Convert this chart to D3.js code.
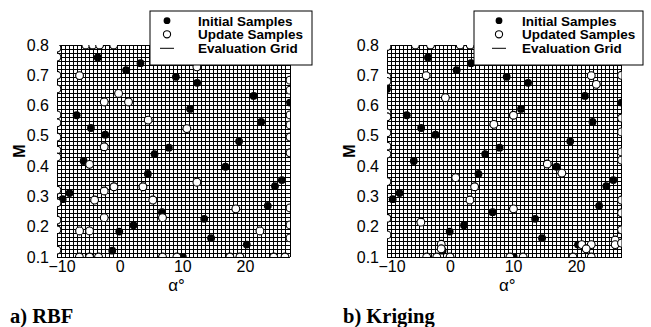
<!DOCTYPE html>
<html><head><meta charset="utf-8">
<script src="https://cdn.jsdelivr.net/npm/d3@7"></script>
<style>body{margin:0;background:#fff}svg{display:block}</style>
</head><body>
<script>
// ---- data ----
const xTicks = [-10, 0, 10, 20];
const yTicks = [0.1, 0.2, 0.3, 0.4, 0.5, 0.6, 0.7, 0.8];
const alphaDomain = [-10, 27.2];
const machDomain = [0.1, 0.8];
const gridCountAlpha = 58;
const gridCountMach = 53;

// initial samples [alpha, M] (shared by both panels)
const initialSamples = [
  [-3.5,0.759],[1.05,0.717],[3.33,0.74],[8.98,0.695],[12.38,0.675],[11.26,0.589],
  [21.4,0.632],[22.6,0.546],[27.2,0.61],[-6.87,0.568],[-4.58,0.526],[-2.3,0.504],
  [5.57,0.44],[7.86,0.461],[19.07,0.482],[16.9,0.398],[-5.75,0.417],[-9.1,0.291],
  [-8.0,0.311],[4.51,0.374],[6.75,0.248],[-0.06,0.184],[2.22,0.205],[-1.18,0.121],
  [13.5,0.226],[14.6,0.162],[20.3,0.141],[23.65,0.269],[24.8,0.334],[25.9,0.354],
  [10.1,0.1],[-10,0.655]
];

// RBF update samples
const rbfUpdateInterior = [
  [-6.4,0.699],[-0.17,0.64],[-2.46,0.612],[1.42,0.612],[12.33,0.728],[4.56,0.552],
  [10.73,0.524],[-2.46,0.464],[21.7,0.756],[-4.8,0.406],[-0.91,0.332],[-2.46,0.318],
  [-4.0,0.288],[3.72,0.332],[5.31,0.288],[-2.46,0.23],[-6.4,0.186],[-4.8,0.186],
  [6.84,0.23],[12.33,0.347],[18.55,0.259],[22.4,0.186]
];
const rbfUpdateTopAlpha = [-5.4,-4.3,-3.2,-0.95];
const rbfUpdateBottomAlpha = [-6.43,-4.8,-3.37,6.84,9.14,17.6,19.2,24.6,26.4];
const rbfUpdateLeftM = [0.79,0.76,0.70,0.655,0.569,0.543,0.496,0.453,0.43,0.321,0.279,0.222,0.19,0.123];
const rbfUpdateRightM = [0.684,0.651,0.569,0.536,0.496,0.444,0.262,0.206,0.163];

// Kriging updated samples
const krigUpdateInterior = [
  [-3.79,0.699],[-0.74,0.626],[6.95,0.538],[10.06,0.568],[22.4,0.699],[23.2,0.67],
  [15.43,0.407],[0.9,0.362],[3.9,0.332],[3.16,0.288],[-4.63,0.215],[10.06,0.259],
  [17.74,0.377],[20.9,0.141],[22.4,0.141],[21.6,0.127],[-1.4,0.142],[-1.4,0.127],
  [26.2,0.156],[26.2,0.141]
];
const krigUpdateTopAlpha = [-5.5,-3.1,1.6,3.2];
const krigUpdateBottomAlpha = [-3.7,-2.1,0,9.5,11.6,19.5,22.4];
const krigUpdateLeftM = [0.795,0.695,0.68,0.576,0.563,0.51,0.466,0.44,0.349,0.228,0.173];
const krigUpdateRightM = [0.70,0.559,0.513,0.447,0.42,0.288,0.246,0.19,0.146];

const legendA = ["Initial Samples","Update Samples","Evaluation Grid"];
const legendB = ["Initial Samples","Updated Samples","Evaluation Grid"];

function assemble(interior, top, bottom, left, right){
  return interior
    .concat(top.map(a=>[a, machDomain[1]]))
    .concat(bottom.map(a=>[a, machDomain[0]]))
    .concat(left.map(m=>[alphaDomain[0], m]))
    .concat(right.map(m=>[alphaDomain[1], m]));
}
const rbfUpdate = assemble(rbfUpdateInterior, rbfUpdateTopAlpha, rbfUpdateBottomAlpha, rbfUpdateLeftM, rbfUpdateRightM);
const krigUpdate = assemble(krigUpdateInterior, krigUpdateTopAlpha, krigUpdateBottomAlpha, krigUpdateLeftM, krigUpdateRightM);

// ---- drawing ----
const W = 651, H = 327;
const SANS = "Liberation Sans, Arial, Helvetica, sans-serif";
const svg = d3.select("body").append("svg").attr("width", W).attr("height", H);

function panel(id, x0, x1, update, legendLabels, legendBox, caption){
  const x = d3.scaleLinear().domain(alphaDomain).range([x0, x1]);
  const y = d3.scaleLinear().domain(machDomain).range([257, 45]);
  const g = svg.append("g");

  svg.append("clipPath").attr("id", "clip"+id).append("rect")
    .attr("x", x0).attr("y", 45).attr("width", x1 - x0).attr("height", 212);

  // evaluation grid
  const gx = d3.range(gridCountAlpha + 1).map(i => alphaDomain[0] + i*(alphaDomain[1]-alphaDomain[0])/gridCountAlpha);
  const gy = d3.range(gridCountMach + 1).map(i => machDomain[0] + i*(machDomain[1]-machDomain[0])/gridCountMach);
  const grid = g.append("g").attr("stroke", "#000").attr("stroke-width", 1).attr("shape-rendering", "crispEdges");
  grid.selectAll(".v").data(gx).join("line")
    .attr("x1", d => x(d)).attr("x2", d => x(d)).attr("y1", y(machDomain[0])).attr("y2", y(machDomain[1]));
  grid.selectAll(".h").data(gy).join("line")
    .attr("x1", x(alphaDomain[0])).attr("x2", x(alphaDomain[1])).attr("y1", d => y(d)).attr("y2", d => y(d));

  const marks = g.append("g").attr("clip-path", "url(#clip"+id+")");
  marks.selectAll("circle.init").data(initialSamples).join("circle").attr("class","init")
    .attr("cx", d => x(d[0])).attr("cy", d => y(d[1])).attr("r", 3.9).attr("fill", "#000");
  marks.selectAll("circle.upd").data(update).join("circle").attr("class","upd")
    .attr("cx", d => x(d[0])).attr("cy", d => y(d[1])).attr("r", 3.9)
    .attr("fill", "#fff").attr("stroke", "#000").attr("stroke-width", 1.1);

  // axes
  const ax = g.append("g").attr("transform", `translate(0,${y(machDomain[0])})`)
    .call(d3.axisBottom(x).tickValues(xTicks).tickSize(0).tickPadding(4).tickFormat(d3.format("d")));
  const ay = g.append("g").attr("transform", `translate(${x0},0)`)
    .call(d3.axisLeft(y).tickValues(yTicks).tickSize(0).tickPadding(8).tickFormat(d3.format(".1f")));
  [ax, ay].forEach(a => {
    a.select(".domain").remove();
    a.selectAll("text").attr("font-family", SANS).attr("font-size", 16).attr("fill", "#000");
  });
  // keep the first x label clear of the lowest y label
  ax.selectAll("text").filter(d => d === xTicks[0]).attr("dx", 4.5);

  g.append("text").attr("x", (x0+x1)/2 + 3).attr("y", 291).attr("text-anchor", "middle")
    .attr("font-family", SANS).attr("font-size", 17).text("α°");
  g.append("text").attr("transform", `translate(${x0-32},151) rotate(-90)`).attr("text-anchor", "middle")
    .attr("font-family", SANS).attr("font-weight", "bold").attr("font-size", 16).text("M");

  // legend
  const lg = g.append("g");
  lg.append("rect").attr("x", legendBox.x).attr("y", 11).attr("width", legendBox.w).attr("height", 54)
    .attr("fill", "#fff").attr("stroke", "#000").attr("stroke-width", 1);
  const rows = [20.7, 34.3, 48.3];
  lg.append("circle").attr("cx", legendBox.mx).attr("cy", rows[0]).attr("r", 3.4).attr("fill", "#000");
  lg.append("circle").attr("cx", legendBox.mx).attr("cy", rows[1]).attr("r", 3.6).attr("fill", "#fff").attr("stroke", "#000").attr("stroke-width", 1.1);
  lg.append("line").attr("x1", legendBox.mx-7).attr("x2", legendBox.mx+7).attr("y1", rows[2]).attr("y2", rows[2]).attr("stroke", "#000");
  lg.selectAll("text").data(legendLabels).join("text")
    .attr("x", legendBox.tx).attr("y", (d,i) => rows[i] + 5)
    .attr("font-family", SANS).attr("font-weight", "bold").attr("font-size", 13.5)
    .text(d => d);

  svg.append("text").attr("x", caption.x).attr("y", 323)
    .attr("font-family", "Liberation Serif, Times New Roman, serif").attr("font-weight", "bold").attr("font-size", 20.5)
    .text(caption.t);
}

panel("a", 57, 290, rbfUpdate, legendA, {x:150, w:162, mx:167, tx:198}, {x:10, t:"a) RBF"});
panel("b", 387, 621.5, krigUpdate, legendB, {x:474, w:169, mx:499, tx:522}, {x:343, t:"b) Kriging"});
</script>
</body></html>
